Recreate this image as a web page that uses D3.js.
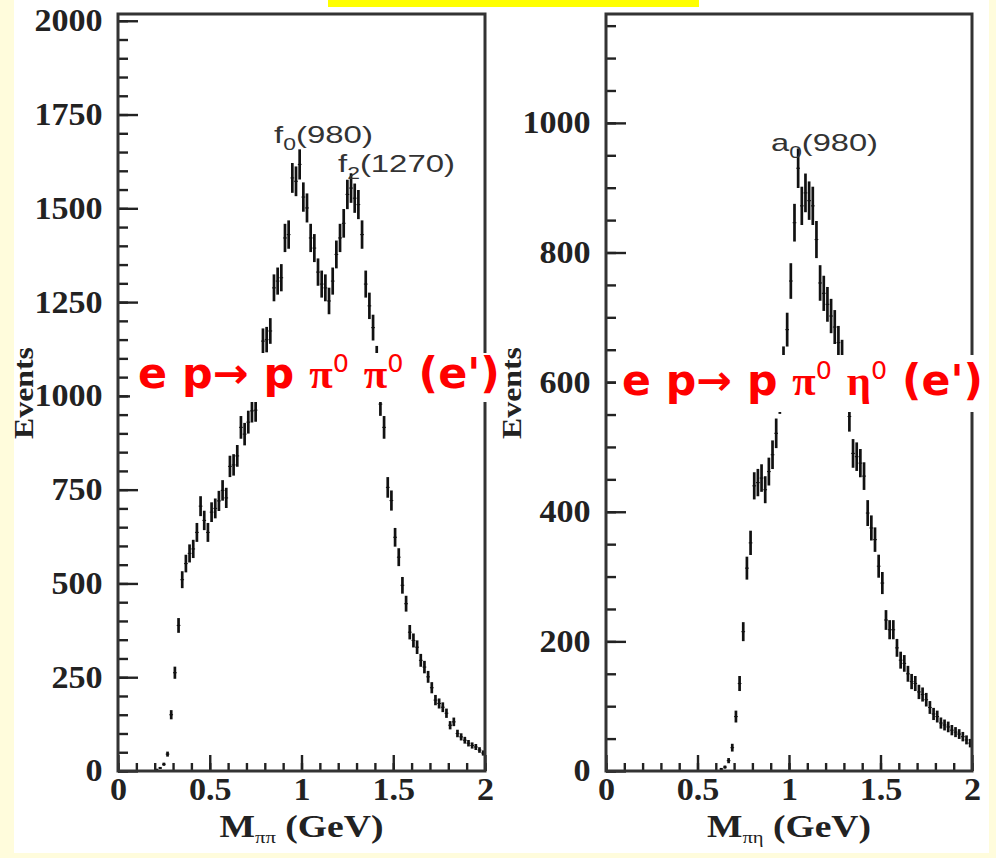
<!DOCTYPE html>
<html>
<head>
<meta charset="utf-8">
<script src="https://cdn.jsdelivr.net/npm/d3@7"></script>
<style>
  body { margin: 0; background: #fffcdc; }
  svg { display: block; }
</style>
</head>
<body>
<div id="chart"></div>
<script>
// histogram bins, 20 MeV wide, counts
var binWidth = 0.02;

var pipiStart = 0.21; // centre of first filled bin
var pipiCounts = [
  4, 8, 18, 45, 150, 262, 388, 510, 553, 580,
  592, 636, 706, 668, 636, 690, 700, 720, 748, 728,
  812, 816, 840, 916, 898, 930, 960, 962, 1050, 1146,
  1150, 1173, 1288, 1306, 1315, 1421, 1430, 1581, 1572, 1617,
  1530, 1501, 1421, 1394, 1330, 1298, 1288, 1253, 1306, 1377,
  1421, 1460, 1537, 1554, 1527, 1510, 1430, 1298, 1240, 1182,
  1100, 978, 916, 756, 721, 623, 570, 495, 446, 370,
  348, 330, 295, 277, 251, 222, 189, 180, 170, 154,
  122, 131, 100, 91, 82, 74, 68, 64, 56, 48
];

var pietaStart = 0.63;
var pietaCounts = [
  3, 6, 16, 36, 84, 135, 215, 313, 352, 440,
  445, 452, 434, 462, 488, 521, 575, 630, 681, 756,
  846, 930, 872, 892, 880, 872, 820, 753, 737, 720,
  702, 685, 661, 640, 600, 547, 490, 485, 475, 455,
  398, 375, 357, 316, 290, 233, 218, 218, 190, 171,
  166, 150, 138, 135, 122, 118, 110, 98, 88, 84,
  74, 71, 68, 63, 60, 57, 53, 48, 43
];

var xTicks = [0, 0.5, 1, 1.5, 2];
var pipiTicks = [0, 250, 500, 750, 1000, 1250, 1500, 1750, 2000];
var pietaTicks = [0, 200, 400, 600, 800, 1000];

var W = 996, H = 858;
var plotTop = 14, plotBottom = 771;

var svg = d3.select("#chart").append("svg")
  .attr("width", W)
  .attr("height", H);

svg.append("rect").attr("width", W).attr("height", H).attr("fill", "#fffcdc");
svg.append("rect").attr("x", 14).attr("y", 0).attr("width", 975).attr("height", 853).attr("fill", "#ffffff");
svg.append("rect").attr("x", 328).attr("y", 0).attr("width", 371).attr("height", 7).attr("fill", "#ffff00");

// squeeze/stretch a text element so it spans exactly w pixels
function fit(t, x, y, w) {
  var bw = t.node().getBBox().width;
  t.attr("transform", "translate(" + x + "," + y + ") scale(" + (w / bw) + ",1)");
}

function panel(cfg) {
  var x = d3.scaleLinear().domain([0, 2]).range([cfg.left, cfg.right]);
  var y = d3.scaleLinear().domain([0, cfg.yMax]).range([plotBottom, plotTop]);
  var g = svg.append("g");

  // data: error bars (sqrt N) with bin-width horizontal marks
  var bins = cfg.counts.map(function(n, i) {
    return {c: cfg.start + i * binWidth, n: n};
  });
  var pts = g.append("g").attr("stroke", "#111");
  pts.selectAll(".err").data(bins).enter().append("line")
    .attr("class", "err")
    .attr("x1", function(d) { return x(d.c); })
    .attr("x2", function(d) { return x(d.c); })
    .attr("y1", function(d) { return y(d.n - Math.sqrt(d.n)); })
    .attr("y2", function(d) { return y(d.n + Math.sqrt(d.n)); })
    .attr("stroke-width", 2.7);
  pts.selectAll(".hbar").data(bins).enter().append("line")
    .attr("class", "hbar")
    .attr("x1", function(d) { return x(d.c - binWidth / 2); })
    .attr("x2", function(d) { return x(d.c + binWidth / 2); })
    .attr("y1", function(d) { return y(d.n); })
    .attr("y2", function(d) { return y(d.n); })
    .attr("stroke-width", 1.1);

  // minor ticks
  g.append("g")
    .attr("transform", "translate(" + cfg.left + ",0)")
    .call(d3.axisLeft(y).tickValues(d3.range(0, cfg.yMax, 50)).tickSize(-10).tickFormat(""))
    .call(function(a) { a.select(".domain").remove(); });
  g.append("g")
    .attr("transform", "translate(0," + plotBottom + ")")
    .call(d3.axisBottom(x).tickValues(d3.range(0, 2.01, 0.1)).tickSize(-8).tickFormat(""))
    .call(function(a) { a.select(".domain").remove(); });

  // major ticks + labels
  var ya = g.append("g")
    .attr("transform", "translate(" + cfg.left + ",0)")
    .call(d3.axisLeft(y).tickValues(cfg.yTicks).tickSize(-20).tickPadding(14).tickFormat(d3.format("d")));
  var xa = g.append("g")
    .attr("transform", "translate(0," + plotBottom + ")")
    .call(d3.axisBottom(x).tickValues(xTicks).tickSize(-16).tickPadding(7).tickFormat(d3.format("")));
  [ya, xa].forEach(function(a) {
    a.select(".domain").remove();
    a.selectAll("text")
      .attr("font-family", "'Liberation Serif', 'Times New Roman', serif")
      .attr("font-weight", "bold")
      .attr("font-size", 31)
      .attr("fill", "#222")
      .attr("transform", "scale(1.1,1)");
  });
  g.selectAll(".tick line").attr("stroke", "#222").attr("stroke-width", 2.4);

  // frame
  g.append("rect")
    .attr("x", cfg.left).attr("y", plotTop)
    .attr("width", cfg.right - cfg.left).attr("height", plotBottom - plotTop)
    .attr("fill", "none").attr("stroke", "#333").attr("stroke-width", 3);

  // y title
  g.append("text")
    .attr("transform", "translate(" + (cfg.left - 85) + ",393) rotate(-90)")
    .attr("text-anchor", "middle")
    .attr("font-family", "'Liberation Serif', serif")
    .attr("font-weight", "bold")
    .attr("font-size", 27)
    .attr("fill", "#222")
    .attr("textLength", 92)
    .attr("lengthAdjust", "spacingAndGlyphs")
    .text("Events");

  // x title
  var xt = g.append("text")
    .attr("font-family", "'Liberation Serif', serif")
    .attr("font-weight", "bold")
    .attr("font-size", 31)
    .attr("fill", "#222");
  xt.append("tspan").text("M");
  xt.append("tspan").attr("font-size", 17).attr("font-weight", "normal").attr("dy", 6).text(cfg.sub);
  xt.append("tspan").attr("dy", -6).text(" (GeV)");
  var mid = (cfg.left + cfg.right) / 2;
  fit(xt, mid - 82, 837, 164);

  // resonance annotations
  cfg.notes.forEach(function(n) {
    var t = g.append("text")
      .attr("font-family", "'Liberation Sans', Arial, sans-serif")
      .attr("font-size", 23)
      .attr("fill", "#333");
    t.append("tspan").text(n.name);
    t.append("tspan").attr("font-size", 16).attr("dy", 7).text(n.idx);
    t.append("tspan").attr("dy", -7).text(n.mass);
    fit(t, n.x, n.y, n.w);
  });

  // red reaction label on white box
  g.append("rect")
    .attr("x", cfg.box[0]).attr("y", cfg.box[1])
    .attr("width", cfg.box[2]).attr("height", cfg.box[3])
    .attr("fill", "#ffffff");
  var lt = g.append("text")
    .attr("font-family", "'DejaVu Sans', Verdana, sans-serif")
    .attr("font-weight", "bold")
    .attr("font-size", 42)
    .attr("fill", "#ff0000");
  lt.append("tspan").text("e p\u2192 p ");
  cfg.parts.forEach(function(p) {
    lt.append("tspan").attr("font-family", "'Liberation Serif', serif").text(p);
    lt.append("tspan").attr("font-size", 25).attr("font-weight", "normal").attr("dy", -16).text("0");
    lt.append("tspan").attr("dy", 16).text(" ");
  });
  lt.append("tspan").text("(e')");
  fit(lt, cfg.labelX, cfg.labelY, cfg.labelW);
}

panel({
  left: 118, right: 485, yMax: 2018,
  counts: pipiCounts, start: pipiStart, yTicks: pipiTicks,
  sub: "\u03c0\u03c0",
  notes: [
    {name: "f", idx: "0", mass: "(980)", x: 274, y: 143, w: 99},
    {name: "f", idx: "2", mass: "(1270)", x: 338, y: 172, w: 117}
  ],
  box: [130, 353, 372, 49],
  parts: ["\u03c0", "\u03c0"],
  labelX: 138, labelY: 388, labelW: 362
});

panel({
  left: 606, right: 972, yMax: 1168,
  counts: pietaCounts, start: pietaStart, yTicks: pietaTicks,
  sub: "\u03c0\u03b7",
  notes: [
    {name: "a", idx: "0", mass: "(980)", x: 771, y: 151, w: 107}
  ],
  box: [616, 355, 372, 57],
  parts: ["\u03c0", "\u03b7"],
  labelX: 622, labelY: 395, labelW: 361
});
</script>
</body>
</html>
